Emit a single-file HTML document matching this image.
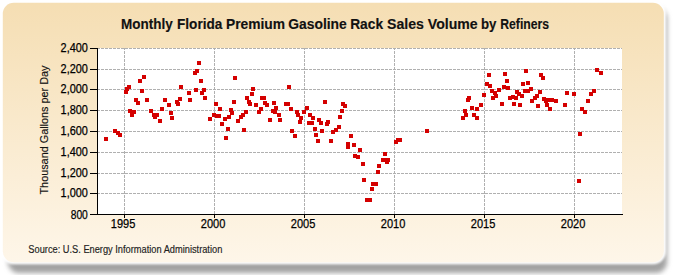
<!DOCTYPE html>
<html><head><meta charset="utf-8">
<style>
html,body{margin:0;padding:0;background:#fff;width:675px;height:275px;overflow:hidden}
svg{display:block}
text{font-family:"Liberation Sans",sans-serif}
.g{stroke:#b0b0b0;stroke-width:1;stroke-dasharray:3 1;stroke-dashoffset:1;shape-rendering:crispEdges}
.k{stroke:#000;stroke-width:1;shape-rendering:crispEdges}
.t{font-family:"Liberation Sans",sans-serif;font-size:12px;fill:#222}
</style></head><body>
<svg width="675" height="275" viewBox="0 0 675 275">
<defs>
<linearGradient id="bg" x1="0" y1="0" x2="0" y2="1">
<stop offset="0" stop-color="#f5deb3"/>
<stop offset="1" stop-color="#fef6e9"/>
</linearGradient>
<filter id="sh" x="-5%" y="-5%" width="115%" height="115%"><feGaussianBlur stdDeviation="2.8"/></filter>
<filter id="gl" x="-5%" y="-5%" width="110%" height="110%"><feGaussianBlur stdDeviation="1.2"/></filter>
<filter id="pb" x="-2%" y="-2%" width="104%" height="104%"><feGaussianBlur stdDeviation="0.6"/></filter>
</defs>
<rect x="8" y="8" width="659" height="265" rx="11" fill="#a2a2a2" filter="url(#sh)"/>
<rect x="2.5" y="2.5" width="661.5" height="259.8" rx="11" fill="none" stroke="#fff" stroke-width="4" filter="url(#gl)"/>
<rect x="2.8" y="2.8" width="661" height="259.4" rx="11" fill="url(#bg)" filter="url(#pb)"/>
<rect x="98" y="48" width="524" height="166" fill="#fff"/>
<line x1="98" y1="193.5" x2="622" y2="193.5" class="g"/>
<line x1="98" y1="173.5" x2="622" y2="173.5" class="g"/>
<line x1="98" y1="152.5" x2="622" y2="152.5" class="g"/>
<line x1="98" y1="131.5" x2="622" y2="131.5" class="g"/>
<line x1="98" y1="110.5" x2="622" y2="110.5" class="g"/>
<line x1="98" y1="89.5" x2="622" y2="89.5" class="g"/>
<line x1="98" y1="69.5" x2="622" y2="69.5" class="g"/>
<line x1="98" y1="48.5" x2="622" y2="48.5" class="g"/>
<line x1="124.5" y1="48" x2="124.5" y2="214" class="g"/>
<line x1="214.5" y1="48" x2="214.5" y2="214" class="g"/>
<line x1="304.5" y1="48" x2="304.5" y2="214" class="g"/>
<line x1="394.5" y1="48" x2="394.5" y2="214" class="g"/>
<line x1="484.5" y1="48" x2="484.5" y2="214" class="g"/>
<line x1="574.5" y1="48" x2="574.5" y2="214" class="g"/>
<line x1="97.5" y1="48" x2="97.5" y2="214.5" class="k"/>
<line x1="90" y1="214.5" x2="623" y2="214.5" class="k"/>
<line x1="90" y1="214.5" x2="97" y2="214.5" class="k"/>
<line x1="90" y1="193.5" x2="97" y2="193.5" class="k"/>
<line x1="90" y1="173.5" x2="97" y2="173.5" class="k"/>
<line x1="90" y1="152.5" x2="97" y2="152.5" class="k"/>
<line x1="90" y1="131.5" x2="97" y2="131.5" class="k"/>
<line x1="90" y1="110.5" x2="97" y2="110.5" class="k"/>
<line x1="90" y1="89.5" x2="97" y2="89.5" class="k"/>
<line x1="90" y1="69.5" x2="97" y2="69.5" class="k"/>
<line x1="90" y1="48.5" x2="97" y2="48.5" class="k"/>
<line x1="124.5" y1="214" x2="124.5" y2="217.5" class="k"/>
<line x1="214.5" y1="214" x2="214.5" y2="217.5" class="k"/>
<line x1="304.5" y1="214" x2="304.5" y2="217.5" class="k"/>
<line x1="394.5" y1="214" x2="394.5" y2="217.5" class="k"/>
<line x1="484.5" y1="214" x2="484.5" y2="217.5" class="k"/>
<line x1="574.5" y1="214" x2="574.5" y2="217.5" class="k"/>
<text x="121.02" y="28.80" textLength="51.67" lengthAdjust="spacingAndGlyphs" style="font-size:13.8px;font-weight:bold;fill:#111;stroke:#111;stroke-width:0.15px">Monthly</text>
<text x="177.02" y="28.80" textLength="45.28" lengthAdjust="spacingAndGlyphs" style="font-size:13.8px;font-weight:bold;fill:#111;stroke:#111;stroke-width:0.15px">Florida</text>
<text x="226.00" y="28.80" textLength="59.05" lengthAdjust="spacingAndGlyphs" style="font-size:13.8px;font-weight:bold;fill:#111;stroke:#111;stroke-width:0.15px">Premium</text>
<text x="288.30" y="28.80" textLength="58.49" lengthAdjust="spacingAndGlyphs" style="font-size:13.8px;font-weight:bold;fill:#111;stroke:#111;stroke-width:0.15px">Gasoline</text>
<text x="350.20" y="28.80" textLength="32.88" lengthAdjust="spacingAndGlyphs" style="font-size:13.8px;font-weight:bold;fill:#111;stroke:#111;stroke-width:0.15px">Rack</text>
<text x="386.98" y="28.80" textLength="36.89" lengthAdjust="spacingAndGlyphs" style="font-size:13.8px;font-weight:bold;fill:#111;stroke:#111;stroke-width:0.15px">Sales</text>
<text x="427.80" y="28.80" textLength="49.81" lengthAdjust="spacingAndGlyphs" style="font-size:13.8px;font-weight:bold;fill:#111;stroke:#111;stroke-width:0.15px">Volume</text>
<text x="480.94" y="28.80" textLength="15.47" lengthAdjust="spacingAndGlyphs" style="font-size:13.8px;font-weight:bold;fill:#111;stroke:#111;stroke-width:0.15px">by</text>
<text x="500.21" y="28.80" textLength="48.88" lengthAdjust="spacingAndGlyphs" style="font-size:13.8px;font-weight:bold;fill:#111;stroke:#111;stroke-width:0.15px">Refiners</text>
<text x="70.70" y="218.60" textLength="17.13" lengthAdjust="spacingAndGlyphs" style="font-size:12px;font-weight:normal;fill:#000;stroke:#000;stroke-width:0.25px">800</text>
<text x="60.59" y="196.90" textLength="27.24" lengthAdjust="spacingAndGlyphs" style="font-size:12px;font-weight:normal;fill:#000;stroke:#000;stroke-width:0.25px">1,000</text>
<text x="60.59" y="176.90" textLength="27.24" lengthAdjust="spacingAndGlyphs" style="font-size:12px;font-weight:normal;fill:#000;stroke:#000;stroke-width:0.25px">1,200</text>
<text x="60.59" y="155.90" textLength="27.24" lengthAdjust="spacingAndGlyphs" style="font-size:12px;font-weight:normal;fill:#000;stroke:#000;stroke-width:0.25px">1,400</text>
<text x="60.59" y="134.90" textLength="27.24" lengthAdjust="spacingAndGlyphs" style="font-size:12px;font-weight:normal;fill:#000;stroke:#000;stroke-width:0.25px">1,600</text>
<text x="60.59" y="113.90" textLength="27.24" lengthAdjust="spacingAndGlyphs" style="font-size:12px;font-weight:normal;fill:#000;stroke:#000;stroke-width:0.25px">1,800</text>
<text x="60.59" y="92.90" textLength="27.24" lengthAdjust="spacingAndGlyphs" style="font-size:12px;font-weight:normal;fill:#000;stroke:#000;stroke-width:0.25px">2,000</text>
<text x="60.59" y="72.90" textLength="27.24" lengthAdjust="spacingAndGlyphs" style="font-size:12px;font-weight:normal;fill:#000;stroke:#000;stroke-width:0.25px">2,200</text>
<text x="60.59" y="51.90" textLength="27.24" lengthAdjust="spacingAndGlyphs" style="font-size:12px;font-weight:normal;fill:#000;stroke:#000;stroke-width:0.25px">2,400</text>
<text x="110.78" y="227.60" textLength="24.57" lengthAdjust="spacingAndGlyphs" style="font-size:12px;font-weight:normal;fill:#000;stroke:#000;stroke-width:0.25px">1995</text>
<text x="200.78" y="227.60" textLength="24.57" lengthAdjust="spacingAndGlyphs" style="font-size:12px;font-weight:normal;fill:#000;stroke:#000;stroke-width:0.25px">2000</text>
<text x="290.78" y="227.60" textLength="24.57" lengthAdjust="spacingAndGlyphs" style="font-size:12px;font-weight:normal;fill:#000;stroke:#000;stroke-width:0.25px">2005</text>
<text x="380.78" y="227.60" textLength="24.57" lengthAdjust="spacingAndGlyphs" style="font-size:12px;font-weight:normal;fill:#000;stroke:#000;stroke-width:0.25px">2010</text>
<text x="470.78" y="227.60" textLength="24.57" lengthAdjust="spacingAndGlyphs" style="font-size:12px;font-weight:normal;fill:#000;stroke:#000;stroke-width:0.25px">2015</text>
<text x="560.78" y="227.60" textLength="24.57" lengthAdjust="spacingAndGlyphs" style="font-size:12px;font-weight:normal;fill:#000;stroke:#000;stroke-width:0.25px">2020</text>
<text x="28.37" y="252.90" textLength="193.93" lengthAdjust="spacingAndGlyphs" style="font-size:10px;font-weight:normal;fill:#222;stroke:#222;stroke-width:0.15px">Source: U.S. Energy Information Administration</text>
<text x="0" y="0" transform="translate(47.5 194.50) rotate(-90)" textLength="128.93" lengthAdjust="spacingAndGlyphs" style="font-size:11.6px;fill:#111;stroke:#111;stroke-width:0.15px">Thousand Gallons per Day</text>
<g fill="#d40000">
<rect x="124" y="90" width="4" height="4"/>
<rect x="125" y="87" width="4" height="4"/>
<rect x="127" y="85" width="4" height="4"/>
<rect x="138" y="79" width="4" height="4"/>
<rect x="142" y="75" width="4" height="4"/>
<rect x="140" y="89" width="4" height="4"/>
<rect x="179" y="85" width="4" height="4"/>
<rect x="187" y="91" width="4" height="4"/>
<rect x="193" y="71" width="4" height="4"/>
<rect x="195" y="69" width="4" height="4"/>
<rect x="194" y="88" width="4" height="4"/>
<rect x="134" y="98" width="4" height="4"/>
<rect x="136" y="101" width="4" height="4"/>
<rect x="145" y="98" width="4" height="4"/>
<rect x="163" y="98" width="4" height="4"/>
<rect x="167" y="103" width="4" height="4"/>
<rect x="175" y="100" width="4" height="4"/>
<rect x="178" y="97" width="4" height="4"/>
<rect x="176" y="102" width="4" height="4"/>
<rect x="188" y="98" width="4" height="4"/>
<rect x="128" y="109" width="4" height="4"/>
<rect x="130" y="113" width="4" height="4"/>
<rect x="132" y="110" width="4" height="4"/>
<rect x="149" y="109" width="4" height="4"/>
<rect x="152" y="113" width="4" height="4"/>
<rect x="155" y="113" width="4" height="4"/>
<rect x="153" y="115" width="4" height="4"/>
<rect x="158" y="119" width="4" height="4"/>
<rect x="160" y="107" width="4" height="4"/>
<rect x="169" y="111" width="4" height="4"/>
<rect x="170" y="116" width="4" height="4"/>
<rect x="113" y="129" width="4" height="4"/>
<rect x="116" y="131" width="4" height="4"/>
<rect x="118" y="133" width="4" height="4"/>
<rect x="104" y="137" width="4" height="4"/>
<rect x="197" y="61" width="4" height="4"/>
<rect x="199" y="79" width="4" height="4"/>
<rect x="202" y="88" width="4" height="4"/>
<rect x="200" y="91" width="4" height="4"/>
<rect x="233" y="76" width="4" height="4"/>
<rect x="251" y="87" width="4" height="4"/>
<rect x="250" y="92" width="4" height="4"/>
<rect x="287" y="85" width="4" height="4"/>
<rect x="203" y="96" width="4" height="4"/>
<rect x="214" y="102" width="4" height="4"/>
<rect x="218" y="107" width="4" height="4"/>
<rect x="212" y="113" width="4" height="4"/>
<rect x="215" y="114" width="4" height="4"/>
<rect x="217" y="114" width="4" height="4"/>
<rect x="208" y="117" width="4" height="4"/>
<rect x="220" y="122" width="4" height="4"/>
<rect x="223" y="117" width="4" height="4"/>
<rect x="227" y="115" width="4" height="4"/>
<rect x="229" y="108" width="4" height="4"/>
<rect x="230" y="111" width="4" height="4"/>
<rect x="226" y="127" width="4" height="4"/>
<rect x="232" y="100" width="4" height="4"/>
<rect x="236" y="119" width="4" height="4"/>
<rect x="239" y="115" width="4" height="4"/>
<rect x="241" y="113" width="4" height="4"/>
<rect x="244" y="110" width="4" height="4"/>
<rect x="242" y="128" width="4" height="4"/>
<rect x="245" y="96" width="4" height="4"/>
<rect x="247" y="100" width="4" height="4"/>
<rect x="248" y="102" width="4" height="4"/>
<rect x="254" y="103" width="4" height="4"/>
<rect x="257" y="110" width="4" height="4"/>
<rect x="259" y="107" width="4" height="4"/>
<rect x="260" y="96" width="4" height="4"/>
<rect x="262" y="96" width="4" height="4"/>
<rect x="263" y="101" width="4" height="4"/>
<rect x="265" y="103" width="4" height="4"/>
<rect x="268" y="118" width="4" height="4"/>
<rect x="272" y="101" width="4" height="4"/>
<rect x="271" y="109" width="4" height="4"/>
<rect x="274" y="106" width="4" height="4"/>
<rect x="273" y="110" width="4" height="4"/>
<rect x="277" y="113" width="4" height="4"/>
<rect x="278" y="118" width="4" height="4"/>
<rect x="284" y="102" width="4" height="4"/>
<rect x="286" y="102" width="4" height="4"/>
<rect x="289" y="107" width="4" height="4"/>
<rect x="290" y="129" width="4" height="4"/>
<rect x="224" y="136" width="4" height="4"/>
<rect x="295" y="110" width="4" height="4"/>
<rect x="296" y="113" width="4" height="4"/>
<rect x="299" y="116" width="4" height="4"/>
<rect x="298" y="120" width="4" height="4"/>
<rect x="293" y="134" width="4" height="4"/>
<rect x="302" y="110" width="4" height="4"/>
<rect x="305" y="106" width="4" height="4"/>
<rect x="308" y="113" width="4" height="4"/>
<rect x="311" y="116" width="4" height="4"/>
<rect x="307" y="121" width="4" height="4"/>
<rect x="310" y="121" width="4" height="4"/>
<rect x="313" y="127" width="4" height="4"/>
<rect x="314" y="133" width="4" height="4"/>
<rect x="317" y="118" width="4" height="4"/>
<rect x="319" y="121" width="4" height="4"/>
<rect x="320" y="129" width="4" height="4"/>
<rect x="323" y="100" width="4" height="4"/>
<rect x="325" y="122" width="4" height="4"/>
<rect x="326" y="120" width="4" height="4"/>
<rect x="331" y="130" width="4" height="4"/>
<rect x="334" y="128" width="4" height="4"/>
<rect x="337" y="125" width="4" height="4"/>
<rect x="338" y="115" width="4" height="4"/>
<rect x="340" y="109" width="4" height="4"/>
<rect x="341" y="102" width="4" height="4"/>
<rect x="343" y="104" width="4" height="4"/>
<rect x="349" y="134" width="4" height="4"/>
<rect x="316" y="139" width="4" height="4"/>
<rect x="329" y="139" width="4" height="4"/>
<rect x="346" y="142" width="4" height="4"/>
<rect x="346" y="145" width="4" height="4"/>
<rect x="352" y="143" width="4" height="4"/>
<rect x="358" y="148" width="4" height="4"/>
<rect x="353" y="154" width="4" height="4"/>
<rect x="356" y="155" width="4" height="4"/>
<rect x="361" y="162" width="4" height="4"/>
<rect x="383" y="152" width="4" height="4"/>
<rect x="381" y="158" width="4" height="4"/>
<rect x="384" y="158" width="4" height="4"/>
<rect x="386" y="158" width="4" height="4"/>
<rect x="385" y="160" width="4" height="4"/>
<rect x="377" y="164" width="4" height="4"/>
<rect x="376" y="170" width="4" height="4"/>
<rect x="362" y="178" width="4" height="4"/>
<rect x="371" y="182" width="4" height="4"/>
<rect x="374" y="182" width="4" height="4"/>
<rect x="370" y="187" width="4" height="4"/>
<rect x="365" y="198" width="4" height="4"/>
<rect x="368" y="198" width="4" height="4"/>
<rect x="425" y="129" width="4" height="4"/>
<rect x="466" y="98" width="4" height="4"/>
<rect x="467" y="96" width="4" height="4"/>
<rect x="463" y="109" width="4" height="4"/>
<rect x="464" y="113" width="4" height="4"/>
<rect x="461" y="116" width="4" height="4"/>
<rect x="470" y="106" width="4" height="4"/>
<rect x="472" y="113" width="4" height="4"/>
<rect x="475" y="116" width="4" height="4"/>
<rect x="475" y="107" width="4" height="4"/>
<rect x="479" y="103" width="4" height="4"/>
<rect x="487" y="73" width="4" height="4"/>
<rect x="485" y="82" width="4" height="4"/>
<rect x="488" y="84" width="4" height="4"/>
<rect x="490" y="89" width="4" height="4"/>
<rect x="493" y="91" width="4" height="4"/>
<rect x="497" y="88" width="4" height="4"/>
<rect x="503" y="72" width="4" height="4"/>
<rect x="505" y="79" width="4" height="4"/>
<rect x="502" y="85" width="4" height="4"/>
<rect x="506" y="86" width="4" height="4"/>
<rect x="524" y="69" width="4" height="4"/>
<rect x="521" y="82" width="4" height="4"/>
<rect x="526" y="81" width="4" height="4"/>
<rect x="515" y="90" width="4" height="4"/>
<rect x="517" y="92" width="4" height="4"/>
<rect x="523" y="89" width="4" height="4"/>
<rect x="526" y="89" width="4" height="4"/>
<rect x="529" y="87" width="4" height="4"/>
<rect x="539" y="73" width="4" height="4"/>
<rect x="541" y="76" width="4" height="4"/>
<rect x="538" y="90" width="4" height="4"/>
<rect x="565" y="91" width="4" height="4"/>
<rect x="572" y="92" width="4" height="4"/>
<rect x="494" y="94" width="4" height="4"/>
<rect x="491" y="96" width="4" height="4"/>
<rect x="482" y="93" width="4" height="4"/>
<rect x="500" y="102" width="4" height="4"/>
<rect x="508" y="96" width="4" height="4"/>
<rect x="511" y="95" width="4" height="4"/>
<rect x="514" y="96" width="4" height="4"/>
<rect x="520" y="94" width="4" height="4"/>
<rect x="512" y="102" width="4" height="4"/>
<rect x="518" y="103" width="4" height="4"/>
<rect x="530" y="99" width="4" height="4"/>
<rect x="533" y="96" width="4" height="4"/>
<rect x="535" y="94" width="4" height="4"/>
<rect x="536" y="104" width="4" height="4"/>
<rect x="542" y="97" width="4" height="4"/>
<rect x="544" y="99" width="4" height="4"/>
<rect x="546" y="98" width="4" height="4"/>
<rect x="545" y="103" width="4" height="4"/>
<rect x="394" y="140" width="4" height="4"/>
<rect x="396" y="138" width="4" height="4"/>
<rect x="398" y="138" width="4" height="4"/>
<rect x="550" y="98" width="4" height="4"/>
<rect x="554" y="99" width="4" height="4"/>
<rect x="563" y="103" width="4" height="4"/>
<rect x="586" y="99" width="4" height="4"/>
<rect x="589" y="92" width="4" height="4"/>
<rect x="592" y="89" width="4" height="4"/>
<rect x="595" y="68" width="4" height="4"/>
<rect x="599" y="71" width="4" height="4"/>
<rect x="548" y="107" width="4" height="4"/>
<rect x="580" y="107" width="4" height="4"/>
<rect x="583" y="110" width="4" height="4"/>
<rect x="578" y="132" width="4" height="4"/>
<rect x="577" y="179" width="4" height="4"/>
</g>
</svg>
</body></html>
